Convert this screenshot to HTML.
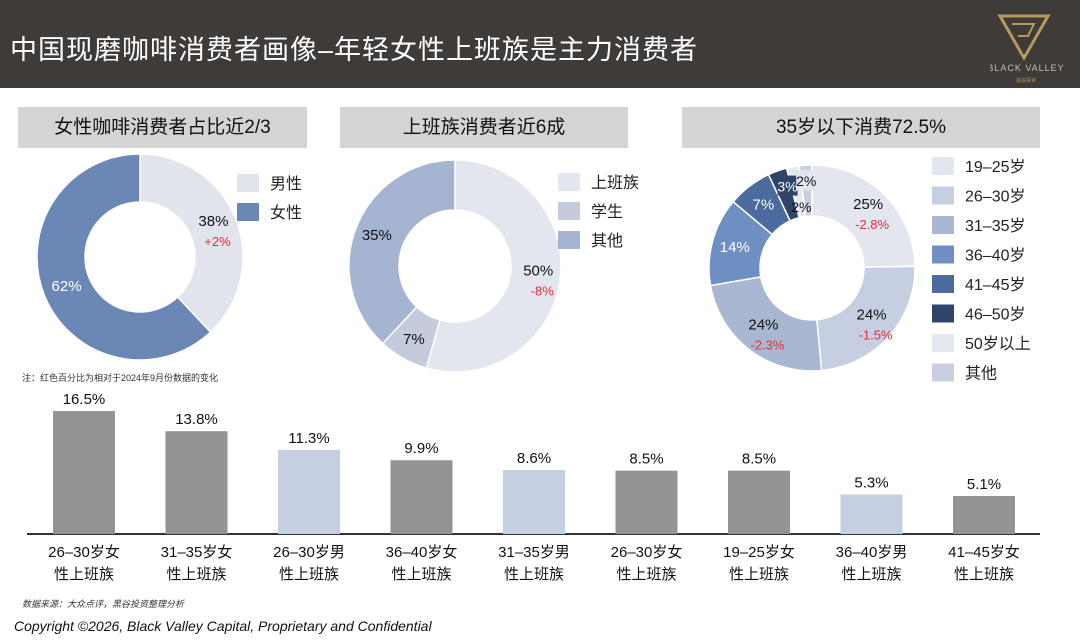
<!DOCTYPE html>
<html><head><meta charset="utf-8"><style>
body{margin:0;width:1080px;height:642px;background:#fff;font-family:"Liberation Sans","Noto Sans CJK SC",sans-serif;overflow:hidden;position:relative}
.hdr{position:absolute;left:0;top:0;width:1080px;height:88px;background:#3e3b39}
.ttl{position:absolute;left:10px;top:28px;color:#fff;font-size:27px;letter-spacing:1px;font-family:"Liberation Sans","WenQuanYi Zen Hei",sans-serif}
.box{position:absolute;top:107px;height:41px;background:#d4d4d4;font-size:19px;text-align:center;line-height:41px;color:#111}
</style></head><body>
<div class="hdr"></div>
<div class="ttl">中国现磨咖啡消费者画像–年轻女性上班族是主力消费者</div>
<svg style="position:absolute;left:990px;top:10px" width="90" height="78">
<polygon points="10,6 58,6 34,48" fill="none" stroke="#b49a5e" stroke-width="3"/>
<path d="M22,14 L44,14 L38,26 L28,26" fill="none" stroke="#b49a5e" stroke-width="2"/>
<text x="36" y="61" fill="#c9bfae" font-size="9" text-anchor="middle" letter-spacing="1">BLACK VALLEY</text>
<text x="36" y="72" fill="#b49a5e" font-size="5" text-anchor="middle">黑谷投资</text>
</svg>
<div class="box" style="left:18px;width:289px">女性咖啡消费者占比近2/3</div>
<div class="box" style="left:340px;width:288px">上班族消费者近6成</div>
<div class="box" style="left:682px;width:358px">35岁以下消费72.5%</div>
<svg id="c" style="position:absolute;left:0;top:0" width="1080" height="642"></svg>
<script>
const g1Labels=['男性','女性'];
const g1Values=[38,62];
const g1Text=['38%','62%'];
const g1Change=['+2%',''];
const g2Labels=['上班族','学生','其他'];
const g2Values=[50,7,35];
const g2Text=['50%','7%','35%'];
const g2Change=['-8%','',''];
const g3Labels=['19–25岁','26–30岁','31–35岁','36–40岁','41–45岁','46–50岁','50岁以上','其他'];
const g3Values=[25,24,24,14,7,3,2,2];
const g3Text=['25%','24%','24%','14%','7%','3%','2%','2%'];
const g3Change=['-2.8%','-1.5%','-2.3%','','','','',''];
const barCats=[['26–30岁女','性上班族'],['31–35岁女','性上班族'],['26–30岁男','性上班族'],['36–40岁女','性上班族'],['31–35岁男','性上班族'],['26–30岁女','性上班族'],['19–25岁女','性上班族'],['36–40岁男','性上班族'],['41–45岁女','性上班族']];
const barValues=[16.5,13.8,11.3,9.9,8.6,8.5,8.5,5.3,5.1];
const barText=['16.5%','13.8%','11.3%','9.9%','8.6%','8.5%','8.5%','5.3%','5.1%'];
const barFemale=[true,true,false,true,false,true,true,false,true];

const svg=document.getElementById('c');const NS='http://www.w3.org/2000/svg';
function mk(t,a,txt){const e=document.createElementNS(NS,t);for(const k in a)e.setAttribute(k,a[k]);if(txt!=null)e.textContent=txt;svg.appendChild(e);return e;}
const smallPos={5:[85,0.05],6:[87,0.12],7:[62,-0.11]};
function donut(name,cx,cy,R,r,vals,cols,texts,chg,tcols,lr,useSmall){
 const tot=vals.reduce((a,b)=>a+b,0);let a0=0;const labels=[];
 const p=(a,rr)=>[cx+rr*Math.sin(a),cy-rr*Math.cos(a)];
 vals.forEach((v,i)=>{const a1=a0+v/tot*2*Math.PI;
  const [x0,y0]=p(a0,R),[x1,y1]=p(a1,R),[x2,y2]=p(a1,r),[x3,y3]=p(a0,r);const lg=a1-a0>Math.PI?1:0;
  const s=mk('path',{d:`M${x0},${y0}A${R},${R} 0 ${lg} 1 ${x1},${y1}L${x2},${y2}A${r},${r} 0 ${lg} 0 ${x3},${y3}Z`,fill:cols[i],stroke:'#fff','stroke-width':1.5});
  
  
  labels.push([i,v,(a0+a1)/2]);a0=a1;});
 labels.forEach(([i,v,am])=>{let rr=lr;
  if(useSmall&&smallPos[i]){rr=smallPos[i][0];am+=smallPos[i][1];}
  const [lx,ly]=p(am,rr);
  if(useSmall&&i===5){const bg=mk('rect',{x:lx-10,y:ly-11,width:20,height:20,fill:'#2f4468'});}
  if(useSmall&&i===6){const bg=mk('rect',{x:lx-10,y:ly-11,width:20,height:20,fill:'#e3e6ee'});}
  const t=mk('text',{x:lx,y:ly+(chg[i]?-2:5),'text-anchor':'middle','font-size':v<5?14:15,fill:tcols[i]},texts[i]);
  
  
  if(chg[i]){const c=mk('text',{x:lx+4,y:ly+18,'text-anchor':'middle','font-size':13,fill:'#e0303a'},chg[i]);
   
   }
 });
}
function legend(name,x,y,dy,labels,cols,fs){labels.forEach((l,i)=>{
 const r=mk('rect',{x:x,y:y+i*dy,width:22,height:18,fill:cols[i]});
 
 
 const t=mk('text',{x:x+33,y:y+i*dy+15,'font-size':fs,fill:'#222'},l);
 
 });}
const c1=['#e1e4ec','#6b87b6'];
donut('gender',140,257,103,55,g1Values,c1,g1Text,g1Change,['#111','#fff'],79,false);
legend('gender',237,174,29,g1Labels,c1,16);
const c2=['#e3e6ee','#c3cbdd','#a5b4d0'];
donut('occupation',455,266,106,56,g2Values,c2,g2Text,g2Change,['#111','#111','#111'],84,false);
legend('occupation',558,173,29,g2Labels,c2,16);
const c3=['#e3e6ee','#c6cfe1','#a9b7d3','#6f8fc2','#4b6a9e','#2f4468','#e6e8ef','#c8cfe0'];
donut('age',812,268,103,52,g3Values,c3,g3Text,g3Change,['#111','#111','#111','#fff','#fff','#fff','#111','#111'],80,true);
legend('age',932,157,29.5,g3Labels,c3,16);
const n1=mk('text',{x:22,y:381,'font-size':9,fill:'#333'},'注：红色百分比为相对于2024年9月份数据的变化');

const base=534,scale=7.45,x0=84,step=112.5,bw=62;
const ax=mk('line',{x1:27,y1:base,x2:1040,y2:base,stroke:'#333','stroke-width':2});

barValues.forEach((v,i)=>{const cx=x0+i*step,h=v*scale;
 const b=mk('rect',{x:cx-bw/2,y:base-h,width:bw,height:h,fill:barFemale[i]?'#939393':'#c6cfe1'});
 
 
 const t=mk('text',{x:cx,y:base-h-7,'text-anchor':'middle','font-size':15,fill:'#111'},barText[i]);
 
 
 barCats[i].forEach((l,j)=>{const c=mk('text',{x:cx,y:557+j*22,'text-anchor':'middle','font-size':15,fill:'#111'},l);
  
  });
});
const s=mk('text',{x:22,y:607,'font-size':9,'font-style':'italic',fill:'#333'},'数据来源：大众点评，黑谷投资整理分析');

const cp=mk('text',{x:14,y:631,'font-size':14,'font-style':'italic',fill:'#111'},'Copyright ©2026, Black Valley Capital, Proprietary and Confidential');

</script>
</body></html>
